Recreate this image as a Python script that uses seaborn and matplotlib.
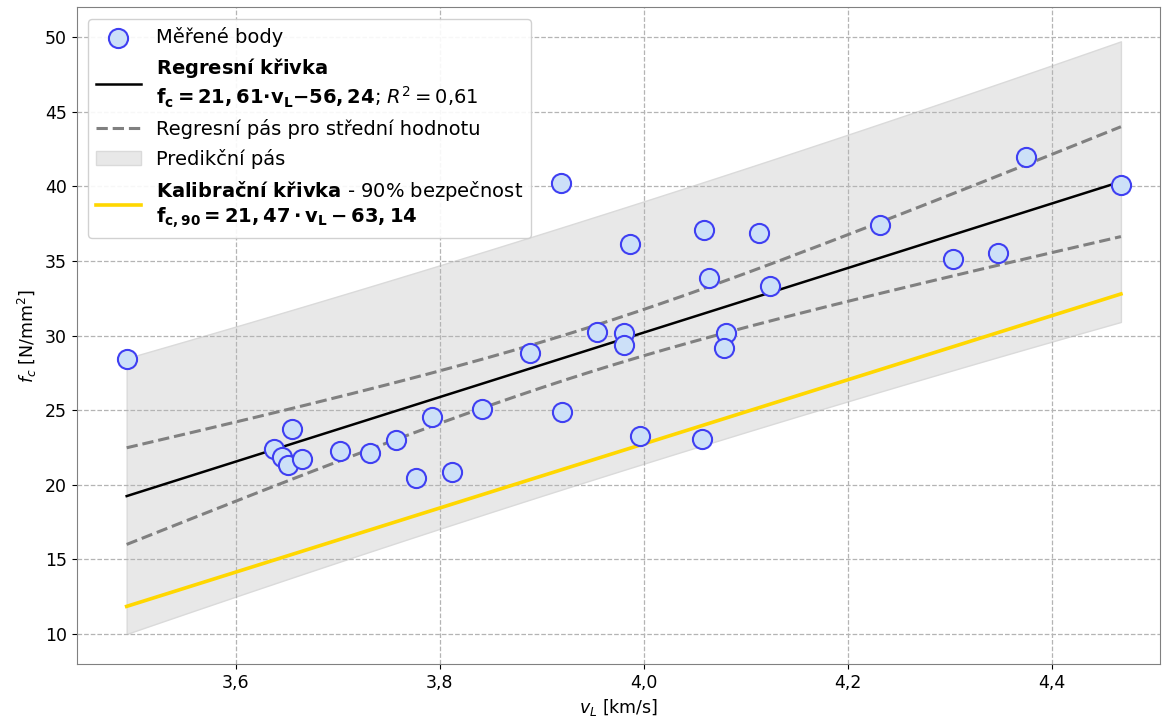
import numpy as np
import pandas as pd
import matplotlib
matplotlib.use('Agg')
import matplotlib.pyplot as plt
import seaborn as sns
from matplotlib.ticker import FuncFormatter

# měřené body (rychlost v_L [km/s], pevnost f_c [N/mm2])
v_L = [3.493, 3.637, 3.655, 3.645, 3.651, 3.665, 3.702, 3.732, 3.757, 3.777, 3.792,
       3.812, 3.841, 3.919, 3.987, 4.059, 4.113, 4.064, 4.124, 3.954, 3.981, 3.981,
       4.081, 4.079, 3.889, 3.920, 3.996, 4.057, 4.375, 4.468, 4.232, 4.303, 4.347]
f_c = [28.40, 22.43, 23.71, 21.87, 21.36, 21.70, 22.27, 22.12, 22.99, 20.49, 24.55,
       20.87, 25.11, 40.25, 36.14, 37.10, 36.90, 33.86, 33.33, 30.27, 30.18, 29.35,
       30.16, 29.17, 28.82, 24.91, 23.26, 23.04, 41.97, 40.12, 37.39, 35.13, 35.52]

# koeficienty z legendy
k_reg, q_reg = 21.61, -56.24
k_cal, q_cal = 21.47, -63.14
t_crit = 2.04  # t(0.975; n-2)

df = pd.DataFrame({'v_L': v_L, 'f_c': f_c})
x = df['v_L'].to_numpy()
y = df['f_c'].to_numpy()
n = len(x)
s = np.sqrt(((y - (k_reg * x + q_reg)) ** 2).sum() / (n - 2))
x_mean = x.mean()
sxx = ((x - x_mean) ** 2).sum()

xs = np.linspace(x.min(), x.max(), 200)
ys = k_reg * xs + q_reg
ci = t_crit * s * np.sqrt(1 / n + (xs - x_mean) ** 2 / sxx)
pi = t_crit * s * np.sqrt(1 + 1 / n + (xs - x_mean) ** 2 / sxx)
y_cal = k_cal * xs + q_cal

fig = plt.figure(figsize=(11.62, 7.24), dpi=100)
ax = fig.add_axes([0.066, 0.083, 0.932, 0.907])

band = ax.fill_between(xs, ys - pi, ys + pi, color='#e8e8e8', edgecolor='#dadada',
                       linewidth=1, zorder=1, label='Predikční pás')
sns.lineplot(x=xs, y=ys + ci, ax=ax, color='grey', linestyle='--', linewidth=2.2, zorder=3)
sns.lineplot(x=xs, y=ys - ci, ax=ax, color='grey', linestyle='--', linewidth=2.2, zorder=3)
sns.lineplot(x=xs, y=ys, ax=ax, color='black', linewidth=1.8, zorder=4)
sns.lineplot(x=xs, y=y_cal, ax=ax, color='gold', linewidth=2.6, zorder=4)
sns.scatterplot(data=df, x='v_L', y='f_c', ax=ax, s=190, color='#cce0f8',
                edgecolor='#3f3ff2', linewidth=1.5, zorder=5)

lines = ax.get_lines()
h_pts = ax.collections[-1]
h_ci, h_reg, h_cal = lines[0], lines[2], lines[3]

lab_reg = ('$\\mathbf{Regresní\\ křivka}$\n'
           '$\\mathbf{f_c = 21,61{\\cdot}v_L{-}56,24}$; $R^2 = 0{,}61$')
lab_cal = ('$\\mathbf{Kalibrační\\ křivka}$ - 90% bezpečnost\n'
           '$\\mathbf{f_{c,90} = 21,47 \\cdot v_L - 63,14}$')
ax.legend([h_pts, h_reg, h_ci, band, h_cal],
          ['Měřené body', lab_reg, 'Regresní pás pro střední hodnotu', 'Predikční pás', lab_cal],
          loc='upper left', fontsize=14, handlelength=2.3, framealpha=0.9,
          borderaxespad=0.6)

ax.grid(True, linestyle='--', color='#b4b4b4', linewidth=0.9)
ax.set_xlim(3.444, 4.506)
ax.set_ylim(8.0, 52.0)
ax.set_xticks([3.6, 3.8, 4.0, 4.2, 4.4])
ax.xaxis.set_major_formatter(FuncFormatter(lambda v, p: f'{v:.1f}'.replace('.', ',')))
ax.tick_params(labelsize=12.5)
for sp in ax.spines.values():
    sp.set_color('0.5')
ax.set_xlabel('$v_L$ [km/s]', fontsize=12.5)
ax.set_ylabel('$f_c$ [N/mm$^2$]', fontsize=12.5)

fig.savefig('out.png', dpi=100)
